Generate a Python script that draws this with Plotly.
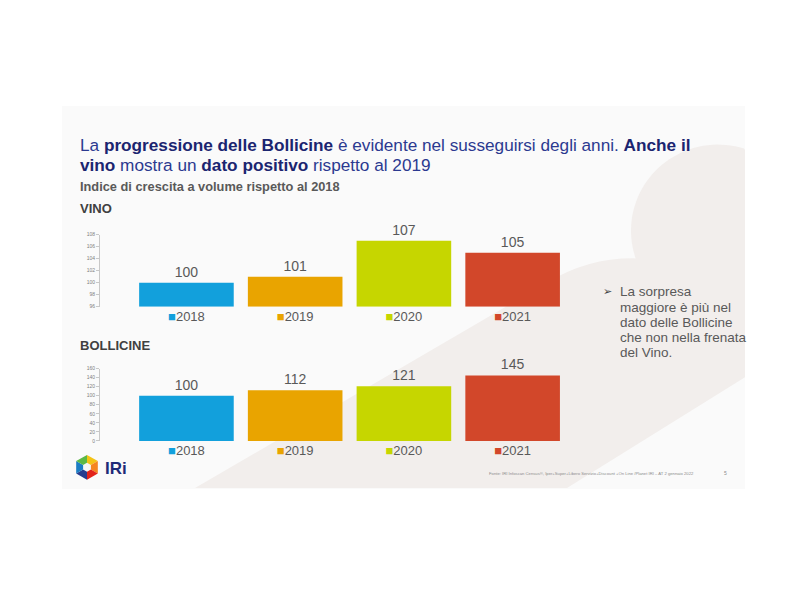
import plotly.graph_objects as go
import numpy as np

# ---------------- data ----------------
years = ["2018", "2019", "2020", "2021"]
vino = [100, 101, 107, 105]
bollicine = [100, 112, 121, 145]
bar_colors = ["#12a0dc", "#e9a400", "#c6d600", "#d2472a"]
vino_ticks = [96, 98, 100, 102, 104, 106, 108]
boll_ticks = [0, 20, 40, 60, 80, 100, 120, 140, 160]

title_line1 = ("La <b>progressione delle Bollicine</b> è evidente nel susseguirsi "
               "degli anni. <b>Anche il</b>")
title_line2 = "<b>vino</b> mostra un <b>dato positivo</b> rispetto al 2019"
subtitle = "Indice di crescita a volume rispetto al 2018"
panel_titles = ["VINO", "BOLLICINE"]
note_lines = ["La sorpresa", "maggiore è più nel", "dato delle Bollicine",
              "che non nella frenata", "del Vino."]
source_text = ("Fonte: IRI Infoscan Census®, Iper+Super+Libero Servizio+Discount "
               "+On Line /Planet IRI – AT 2 gennaio 2022")
page_number = "5"

# ---------------- helpers ----------------
W, H = 800, 600
FONT = "Liberation Sans, Arial, sans-serif"


def X(p):
    return p / W


def Y(p):
    return 1 - p / H


def path(points, close=True):
    s = "M " + " L ".join(f"{X(a):.5f},{Y(b):.5f}" for a, b in points)
    return s + (" Z" if close else "")


ticktext = [f"<span style='color:{c}'>■</span>{y}" for y, c in zip(years, bar_colors)]
vino_base = vino_ticks[0]

fig = go.Figure()
fig.add_trace(go.Bar(
    x=years, y=[v - vino_base for v in vino], base=vino_base,
    marker=dict(color=bar_colors, line=dict(width=0)), width=0.87,
    text=[str(v) for v in vino], textposition="outside",
    textfont=dict(size=14, color="#595959", family=FONT),
    cliponaxis=False, showlegend=False, hoverinfo="skip",
    xaxis="x", yaxis="y"))
fig.add_trace(go.Bar(
    x=years, y=bollicine,
    marker=dict(color=bar_colors, line=dict(width=0)), width=0.87,
    text=[str(v) for v in bollicine], textposition="outside",
    textfont=dict(size=14, color="#595959", family=FONT),
    cliponaxis=False, showlegend=False, hoverinfo="skip",
    xaxis="x2", yaxis="y2"))

xcommon = dict(type="category", range=[-0.795, 3.5], domain=[X(100), X(567)],
               showline=False, showgrid=False, zeroline=False, ticks="",
               tickmode="array", tickvals=years, ticktext=ticktext,
               tickfont=dict(size=13, color="#595959", family=FONT))
ycommon = dict(showline=True, linecolor="#c8c8c8", linewidth=1, ticks="outside",
               ticklen=3, tickcolor="#c8c8c8", showgrid=False, zeroline=False,
               tickfont=dict(size=5, color="#7f7f7f", family=FONT), tickmode="array")

shapes = []
# slide background
shapes.append(dict(type="rect", xref="paper", yref="paper", x0=X(62), x1=X(745),
                   y0=Y(491), y1=Y(104), fillcolor="#fafafa", line=dict(width=0),
                   layer="below"))
# decorative beige disk (clipped to slide)
th = np.linspace(0, 2 * np.pi, 120)
disk = [(min(718 + 87 * np.cos(t), 745), max(230 + 87 * np.sin(t), 105)) for t in th]
shapes.append(dict(type="path", xref="paper", yref="paper", path=path(disk),
                   fillcolor="#f2eeec", line=dict(width=0), layer="below"))
# decorative beige diagonal band
band = (f"M {X(195):.5f},{Y(490):.5f} L {X(548):.5f},{Y(282):.5f} "
        f"Q {X(590):.5f},{Y(256):.5f} {X(640):.5f},{Y(258):.5f} "
        f"L {X(745):.5f},{Y(258):.5f} L {X(745):.5f},{Y(378):.5f} "
        f"L {X(567):.5f},{Y(490):.5f} Z")
shapes.append(dict(type="path", xref="paper", yref="paper", path=band,
                   fillcolor="#f2eeec", line=dict(width=0), layer="below"))

# IRi logo hexagon
cx, cy, r = 87, 469, 12.5
ang = np.deg2rad([-90, -30, 30, 90, 150, 210])
verts = [(cx + r * np.cos(a), cy + r * np.sin(a)) for a in ang]
facet_cols = ["#f4c315", "#f5851f", "#e2231a", "#283c8e", "#1c7dc4", "#5cb946"]
for i in range(6):
    p = [(cx, cy), verts[i], verts[(i + 1) % 6]]
    shapes.append(dict(type="path", xref="paper", yref="paper", path=path(p),
                       fillcolor=facet_cols[i], line=dict(width=0)))
inner = [(cx + 4.5 * np.cos(a), cy + 4.5 * np.sin(a)) for a in ang]
shapes.append(dict(type="path", xref="paper", yref="paper", path=path(inner),
                   fillcolor="#f7f7f7", line=dict(width=0)))

annotations = []


def add_text(txt, x, y, size, color, bold=False, xanchor="left", family=FONT):
    annotations.append(dict(text=(f"<b>{txt}</b>" if bold else txt), x=X(x), y=Y(y),
                            xref="paper", yref="paper", xanchor=xanchor,
                            yanchor="middle", showarrow=False, align="left",
                            font=dict(size=size, color=color, family=family)))


bold_navy = "#1b2570"


def navy_bold(t):
    return t.replace("<b>", f"<span style='color:{bold_navy}'><b>").replace(
        "</b>", "</b></span>")


add_text(navy_bold(title_line1), 78, 143.5, 17.2, "#2b3990")
add_text(navy_bold(title_line2), 78, 163.3, 17.2, "#2b3990")
add_text(subtitle, 78, 185, 12.8, "#595959", bold=True)
add_text(panel_titles[0], 78, 208, 13, "#404040", bold=True)
add_text(panel_titles[1], 78, 346, 13, "#404040", bold=True)
add_text("➢", 601, 291.7, 11, "#404040", family="DejaVu Sans")
for i, line in enumerate(note_lines):
    add_text(line, 618, 291.7 + i * 15.4, 13.5, "#595959")
add_text("IRi", 103, 470, 17, "#1e2a78", bold=True)
add_text(source_text, 487, 475, 4.2, "#8c8c8c")
add_text(page_number, 722, 475, 5, "#8c8c8c")

fig.update_layout(
    width=W, height=H, margin=dict(l=0, r=0, t=0, b=0),
    paper_bgcolor="#ffffff", plot_bgcolor="rgba(0,0,0,0)",
    font=dict(family=FONT), bargap=0.13,
    xaxis=dict(xcommon, anchor="y"),
    yaxis=dict(ycommon, range=[96, 108], tickvals=vino_ticks,
               domain=[Y(306.7), Y(234)], anchor="x"),
    xaxis2=dict(xcommon, anchor="y2"),
    yaxis2=dict(ycommon, range=[0, 160], tickvals=boll_ticks,
                domain=[Y(442.3), Y(369.3)], anchor="x2"),
    shapes=shapes, annotations=annotations,
)

fig.write_html("out.html")
